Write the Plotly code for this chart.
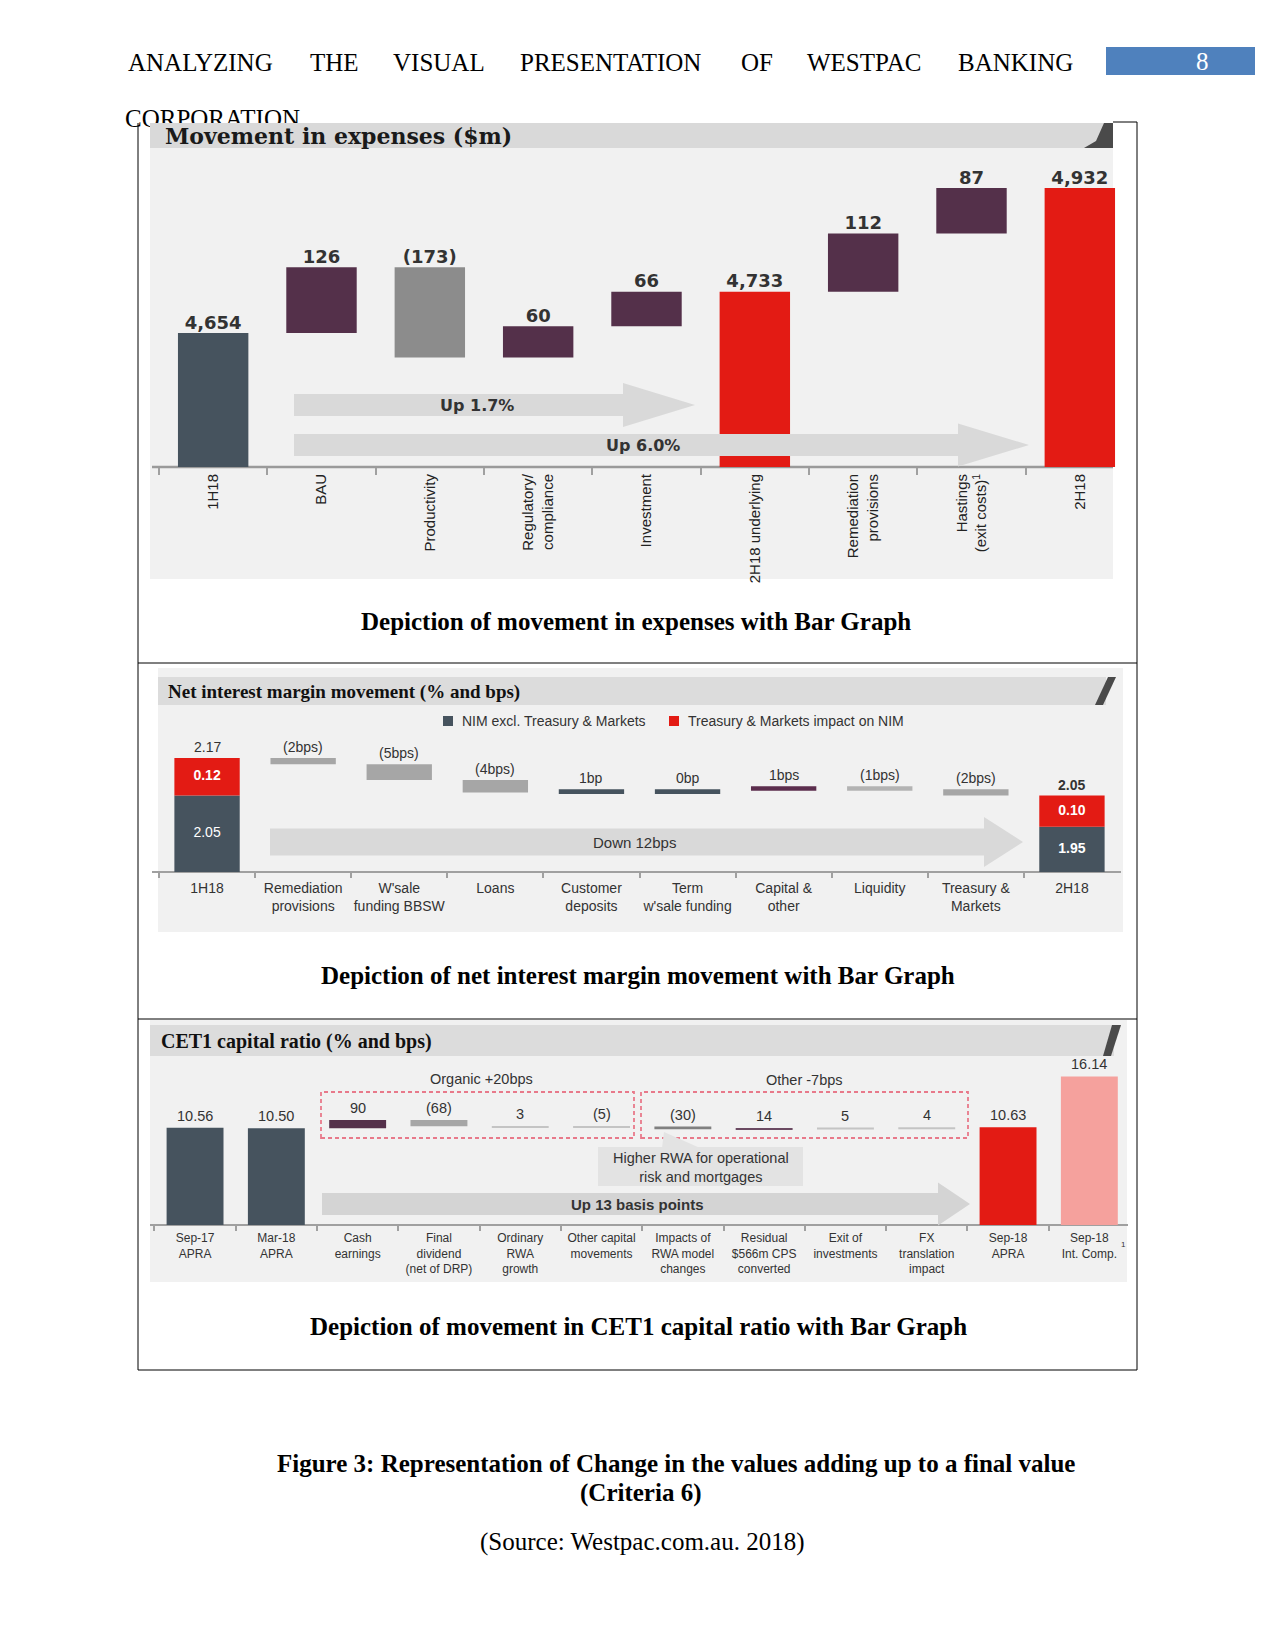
import plotly.graph_objects as go

W, H = 1275, 1650


def px(x):
    return x / W


def py(y):
    return 1 - y / H


# ---------------- data: Movement in expenses ($m) ----------------
exp_categories = ["1H18", "BAU", "Productivity", "Regulatory/<br>compliance", "Investment",
                  "2H18 underlying", "Remediation<br>provisions",
                  "Hastings<br>(exit costs)<sup>1</sup>", "2H18"]
exp_values = [4654, 126, -173, 60, 66, 4733, 112, 87, 4932]
exp_is_total = [True, False, False, False, False, True, False, False, True]
exp_labels = ["4,654", "126", "(173)", "60", "66", "4,733", "112", "87", "4,932"]

# ---------------- data: Net interest margin movement (% and bps) ----------------
nim_categories = ["1H18", "Remediation<br>provisions", "W'sale<br>funding BBSW", "Loans",
                  "Customer<br>deposits", "Term<br>w'sale funding", "Capital &<br>other",
                  "Liquidity", "Treasury &<br>Markets", "2H18"]
nim_values = [2.17, -2, -5, -4, 1, 0, 1, -1, -2, 2.05]          # totals in %, moves in bps
nim_is_total = [True, False, False, False, False, False, False, False, False, True]
nim_labels = ["2.17", "(2bps)", "(5bps)", "(4bps)", "1bp", "0bp", "1bps", "(1bps)", "(2bps)", "<b>2.05</b>"]
nim_excl_tm = [2.05, 1.95]          # NIM excl. Treasury & Markets (1H18, 2H18)
nim_tm = [0.12, 0.10]               # Treasury & Markets impact on NIM
nim_excl_labels = ["2.05", "<b>1.95</b>"]
nim_tm_labels = ["<b>0.12</b>", "<b>0.10</b>"]

# ---------------- data: CET1 capital ratio (% and bps) ----------------
cet_categories = ["Sep-17<br>APRA", "Mar-18<br>APRA", "Cash<br>earnings",
                  "Final<br>dividend<br>(net of DRP)", "Ordinary<br>RWA<br>growth",
                  "Other capital<br>movements", "Impacts of<br>RWA model<br>changes",
                  "Residual<br>$566m CPS<br>converted", "Exit of<br>investments",
                  "FX<br>translation<br>impact", "Sep-18<br>APRA", "Sep-18<br>Int. Comp."]
cet_values = [10.56, 10.50, 90, -68, 3, -5, -30, 14, 5, 4, 10.63, 16.14]
cet_is_total = [True, True, False, False, False, False, False, False, False, False, True, True]
cet_labels = ["10.56", "10.50", "90", "(68)", "3", "(5)", "(30)", "14", "5", "4", "10.63", "16.14"]

# ---------------- styles ----------------
DARK = "#46535e"
PLUM = "#54304a"
RED = "#e31b14"
TXT = "#333333"
exp_colors = [DARK, PLUM, "#8c8c8c", PLUM, PLUM, RED, PLUM, PLUM, RED]
nim_colors = [None, "#a6a6a6", "#a6a6a6", "#a6a6a6", DARK, DARK, "#5b2d4d", "#b3b3b3", "#a6a6a6", None]
cet_colors = [DARK, DARK, PLUM, "#a6a6a6", "#c4c4c4", "#c4c4c4", "#808080", "#6b4a62",
              "#c4c4c4", "#c4c4c4", RED, "#f5a19d"]

SANS = "Liberation Sans, Arial, sans-serif"
SERIF = "Liberation Serif, Times New Roman, serif"
WIDE = "DejaVu Sans, Verdana, sans-serif"
WIDESERIF = "DejaVu Serif, Georgia, serif"


def waterfall(values, is_total, scale=1.0, min_h=0.0):
    bases, heights, tops = [], [], []
    running = 0.0
    for v, tot in zip(values, is_total):
        if tot:
            running = v
            bases.append(0.0)
            heights.append(v)
            tops.append(v)
        else:
            start, end = running, running + v * scale
            lo, hi = min(start, end), max(start, end)
            if hi - lo < min_h:
                lo = hi - min_h
            bases.append(lo)
            heights.append(hi - lo)
            tops.append(hi)
            running = end
    return bases, heights, tops


fig = go.Figure()
anns = []

# ---------------- chart 1 ----------------
e_b, e_h, e_t = waterfall(exp_values, exp_is_total)
fig.add_trace(go.Bar(x=exp_categories, y=e_h, base=e_b, marker=dict(color=exp_colors, line=dict(width=0)),
                     width=0.65, xaxis="x", yaxis="y", showlegend=False, hoverinfo="skip"))
fig.add_trace(go.Scatter(x=exp_categories, y=e_t, mode="text", text=exp_labels, textposition="top center",
                         textfont=dict(family=WIDE, size=18, color=TXT, weight="bold"),
                         xaxis="x", yaxis="y", showlegend=False, hoverinfo="skip", cliponaxis=False))

# ---------------- chart 2 ----------------
n_b, n_h, n_t = waterfall(nim_values, nim_is_total, scale=0.01, min_h=0.015)
mid = slice(1, len(nim_categories) - 1)
fig.add_trace(go.Bar(x=nim_categories[mid], y=n_h[mid], base=n_b[mid],
                     marker=dict(color=nim_colors[mid], line=dict(width=0)),
                     width=0.68, xaxis="x2", yaxis="y2", showlegend=False, hoverinfo="skip"))
ends = [nim_categories[0], nim_categories[-1]]
fig.add_trace(go.Bar(x=ends, y=nim_excl_tm, base=[0, 0], marker=dict(color=DARK, line=dict(width=0)),
                     width=0.68, xaxis="x2", yaxis="y2", showlegend=False, hoverinfo="skip",
                     name="NIM excl. Treasury & Markets"))
fig.add_trace(go.Bar(x=ends, y=nim_tm, base=nim_excl_tm, marker=dict(color=RED, line=dict(width=0)),
                     width=0.68, xaxis="x2", yaxis="y2", showlegend=False, hoverinfo="skip",
                     name="Treasury & Markets impact on NIM"))
for c, t, lab in zip(nim_categories, n_t, nim_labels):
    anns.append(dict(x=c, y=t, xref="x2", yref="y2", text=lab, showarrow=False, yanchor="bottom", yshift=1,
                     font=dict(family=SANS, size=14, color=TXT)))
NIM_MIN, NIM_MAX = 1.805, 2.244
fig.add_trace(go.Scatter(x=ends + ends,
                         y=[(NIM_MIN + v) / 2 for v in nim_excl_tm] + [v + t / 2 for v, t in zip(nim_excl_tm, nim_tm)],
                         mode="text", text=nim_excl_labels + nim_tm_labels, textposition="middle center",
                         textfont=dict(family=SANS, size=14, color="white"),
                         xaxis="x2", yaxis="y2", showlegend=False, hoverinfo="skip"))

# ---------------- chart 3 ----------------
c_b, c_h, c_t = waterfall(cet_values, cet_is_total, scale=0.01, min_h=0.22)
fig.add_trace(go.Bar(x=cet_categories, y=c_h, base=c_b, marker=dict(color=cet_colors, line=dict(width=0)),
                     width=0.7, xaxis="x3", yaxis="y3", showlegend=False, hoverinfo="skip"))
for c, t, lab in zip(cet_categories, c_t, cet_labels):
    anns.append(dict(x=c, y=t, xref="x3", yref="y3", text=lab, showarrow=False, yanchor="bottom", yshift=2,
                     font=dict(family=SANS, size=14.5, color=TXT)))

# ---------------- page text that is partly covered by the first picture ----------------
fig.add_trace(go.Scatter(x=[125], y=[121], mode="text", text=["CORPORATION"], textposition="middle right",
                         textfont=dict(family=SERIF, size=25, color="black"),
                         xaxis="x4", yaxis="y4", showlegend=False, hoverinfo="skip", cliponaxis=False))

# ---------------- shapes ----------------
shapes = []


def rect(x0, y0, x1, y1, fill, layer="below", line=None):
    shapes.append(dict(type="rect", xref="paper", yref="paper", x0=px(x0), x1=px(x1), y0=py(y1), y1=py(y0),
                       fillcolor=fill, line=line if line else dict(width=0), layer=layer))


def seg(x0, y0, x1, y1, color, width=1, layer="below", dash=None):
    ln = dict(color=color, width=width)
    if dash:
        ln["dash"] = dash
    shapes.append(dict(type="line", xref="paper", yref="paper", x0=px(x0), x1=px(x1), y0=py(y0), y1=py(y1),
                       line=ln, layer=layer))


def poly(points, fill, layer="above"):
    d = "M " + " L ".join(f"{px(x):.6f},{py(y):.6f}" for x, y in points) + " Z"
    shapes.append(dict(type="path", xref="paper", yref="paper", path=d, fillcolor=fill,
                       line=dict(width=0), layer=layer))


def arrow(x0, xh, xt, yc, hb, hh, fill):
    poly([(x0, yc - hb), (xh, yc - hb), (xh, yc - hh), (xt, yc), (xh, yc + hh), (xh, yc + hb), (x0, yc + hb)],
         fill, layer="above")


# page number box
rect(1106, 47, 1255, 75, "#4f81bd")

# chart 1 picture
rect(150, 148, 1113, 579, "#f1f1f1")
rect(150, 123, 1113, 148, "#d9d9d9", layer="above")
poly([(1104, 123), (1113, 123), (1113, 148), (1084, 148), (1096, 141)], "#4a4a4a")
seg(152, 467, 1113, 467, "#9a9a9a", 2.5)
arrow(294, 623, 695, 405, 11, 22, "#d9d9d9")
arrow(294, 958, 1029, 445, 11, 21.5, "#d9d9d9")

# chart 2 picture
rect(158, 668, 1123, 932, "#f1f1f1")
rect(158, 677, 1106, 705, "#dcdcdc")
poly([(1108, 677), (1116, 677), (1103, 705), (1095, 705)], "#4a4a4a")
seg(152, 872, 1121, 872, "#a0a0a0", 2)
arrow(270, 984, 1023, 842, 13.5, 25, "#d9d9d9")
rect(443, 716, 453, 726, DARK)
rect(669, 716, 679, 726, RED)

# chart 3 picture
rect(150, 1020, 1127, 1282, "#f1f1f1")
rect(150, 1025, 1114, 1056, "#dcdcdc")
poly([(1112, 1025), (1121, 1025), (1111, 1056), (1103, 1056)], "#4a4a4a")
seg(150, 1225, 1128, 1225, "#a0a0a0", 2)
arrow(322, 938, 970, 1204, 11, 21.5, "#d4d4d4")
for x0, x1 in [(321, 634), (641, 968)]:
    rect(x0, 1092, x1, 1138, "rgba(0,0,0,0)", layer="above",
         line=dict(color="#e8798a", width=1.8, dash="4px,3px"))
poly([(662, 1148), (700, 1148), (664, 1132)], "#e3e3e3")
rect(598, 1147, 803, 1186, "#e3e3e3", layer="above")

# frame round the three pictures
FR = "black"
seg(138, 123, 138, 1370, FR)
seg(1137, 122, 1137, 1370, FR)
seg(1113, 122, 1137, 122, FR)
seg(138, 1370, 1137, 1370, FR)
seg(138, 663, 1137, 663, FR)
seg(138, 1019, 1137, 1019, FR)

# ---------------- annotations ----------------
def ann(text, x, y, size, family=SANS, color=TXT, bold=False, xanchor="center"):
    anns.append(dict(text=text, x=px(x), y=py(y), xref="paper", yref="paper", showarrow=False,
                     xanchor=xanchor, yanchor="middle",
                     font=dict(family=family, size=size, color=color, weight="bold" if bold else "normal")))


header_words = ["ANALYZING", "THE", "VISUAL", "PRESENTATION", "OF", "WESTPAC", "BANKING"]
header_x = [126, 308, 391, 518, 739, 805, 956]
for wd, xx in zip(header_words, header_x):
    ann(wd, xx, 62, 25, SERIF, "black", xanchor="left")
ann("8", 1202, 61, 25, SERIF, "white")

ann("Movement in expenses ($m)", 163, 136, 22, WIDESERIF, "#1a1a1a", bold=True, xanchor="left")
ann("Up 1.7%", 477, 405, 16, WIDE, TXT, bold=True)
ann("Up 6.0%", 643, 445, 16, WIDE, TXT, bold=True)

ann("Net interest margin movement (% and bps)", 166, 692, 19, SERIF, "#111111", bold=True, xanchor="left")
ann("NIM excl. Treasury & Markets", 460, 721, 14, SANS, TXT, xanchor="left")
ann("Treasury & Markets impact on NIM", 686, 721, 14, SANS, TXT, xanchor="left")
ann("Down 12bps", 634, 843, 15, SANS, TXT)

ann("CET1 capital ratio (% and bps)", 159, 1041, 20, SERIF, "#111111", bold=True, xanchor="left")
ann("Organic +20bps", 481, 1079, 14.5, SANS, TXT)
ann("Other -7bps", 804, 1080, 14.5, SANS, TXT)
ann("Higher RWA for operational<br>risk and mortgages", 701, 1167, 14.5, SANS, TXT)
ann("Up 13 basis points", 637, 1204, 15, SANS, TXT, bold=True)
ann("1", 1123, 1244, 8, SANS, TXT)

ann("Depiction of movement in expenses with Bar Graph", 636, 621, 25, SERIF, "black", bold=True)
ann("Depiction of net interest margin movement with Bar Graph", 638, 975, 25, SERIF, "black", bold=True)
ann("Depiction of movement in CET1 capital ratio with Bar Graph", 638, 1326, 25, SERIF, "black", bold=True)
ann("Figure 3: Representation of Change in the values adding up to a final value", 676, 1463, 25, SERIF,
    "black", bold=True)
ann("(Criteria 6)", 640, 1493, 25, SERIF, "black", bold=True)
ann("(Source: Westpac.com.au. 2018)", 642, 1542, 25, SERIF, "black")


# ---------------- axes ----------------
def cat_axis(domain, anchor, cats, font, ticklen, standoff, angle=0):
    return dict(domain=domain, anchor=anchor, type="category", categoryorder="array", categoryarray=cats,
                tickangle=angle, tickson="boundaries", ticks="outside", ticklen=ticklen, tickwidth=1.5,
                tickcolor="#a0a0a0", ticklabelstandoff=standoff, showgrid=False, zeroline=False,
                showline=False, tickfont=font, fixedrange=True)


def val_axis(domain, anchor, rng):
    return dict(domain=domain, anchor=anchor, range=rng, visible=False, fixedrange=True)


fig.update_layout(
    width=W, height=H, margin=dict(l=0, r=0, t=0, b=0, pad=0),
    paper_bgcolor="white", plot_bgcolor="rgba(0,0,0,0)", barmode="overlay", showlegend=False,
    xaxis=cat_axis([px(159), px(1134)], "y", exp_categories, dict(family=SANS, size=15, color="#222222"), 7, 3, -90),
    yaxis=val_axis([py(467), py(150)], "x", [4397, 5005]),
    xaxis2=cat_axis([px(159), px(1120)], "y2", nim_categories, dict(family=SANS, size=14, color=TXT), 5, 6),
    yaxis2=val_axis([py(872), py(735)], "x2", [NIM_MIN, NIM_MAX]),
    xaxis3=cat_axis([px(154.4), px(1130)], "y3", cet_categories, dict(family=SANS, size=12, color=TXT), 5, 4),
    yaxis3=val_axis([py(1225), py(1060)], "x3", [0, 17.93]),
    xaxis4=dict(domain=[0, 1], anchor="y4", range=[0, W], visible=False, fixedrange=True),
    yaxis4=dict(domain=[0, 1], anchor="x4", range=[H, 0], visible=False, fixedrange=True),
    shapes=shapes, annotations=anns,
)

fig.write_html("out.html", config={"displayModeBar": False},
               post_script="document.body.style.margin='0';document.body.style.overflow='hidden';")
